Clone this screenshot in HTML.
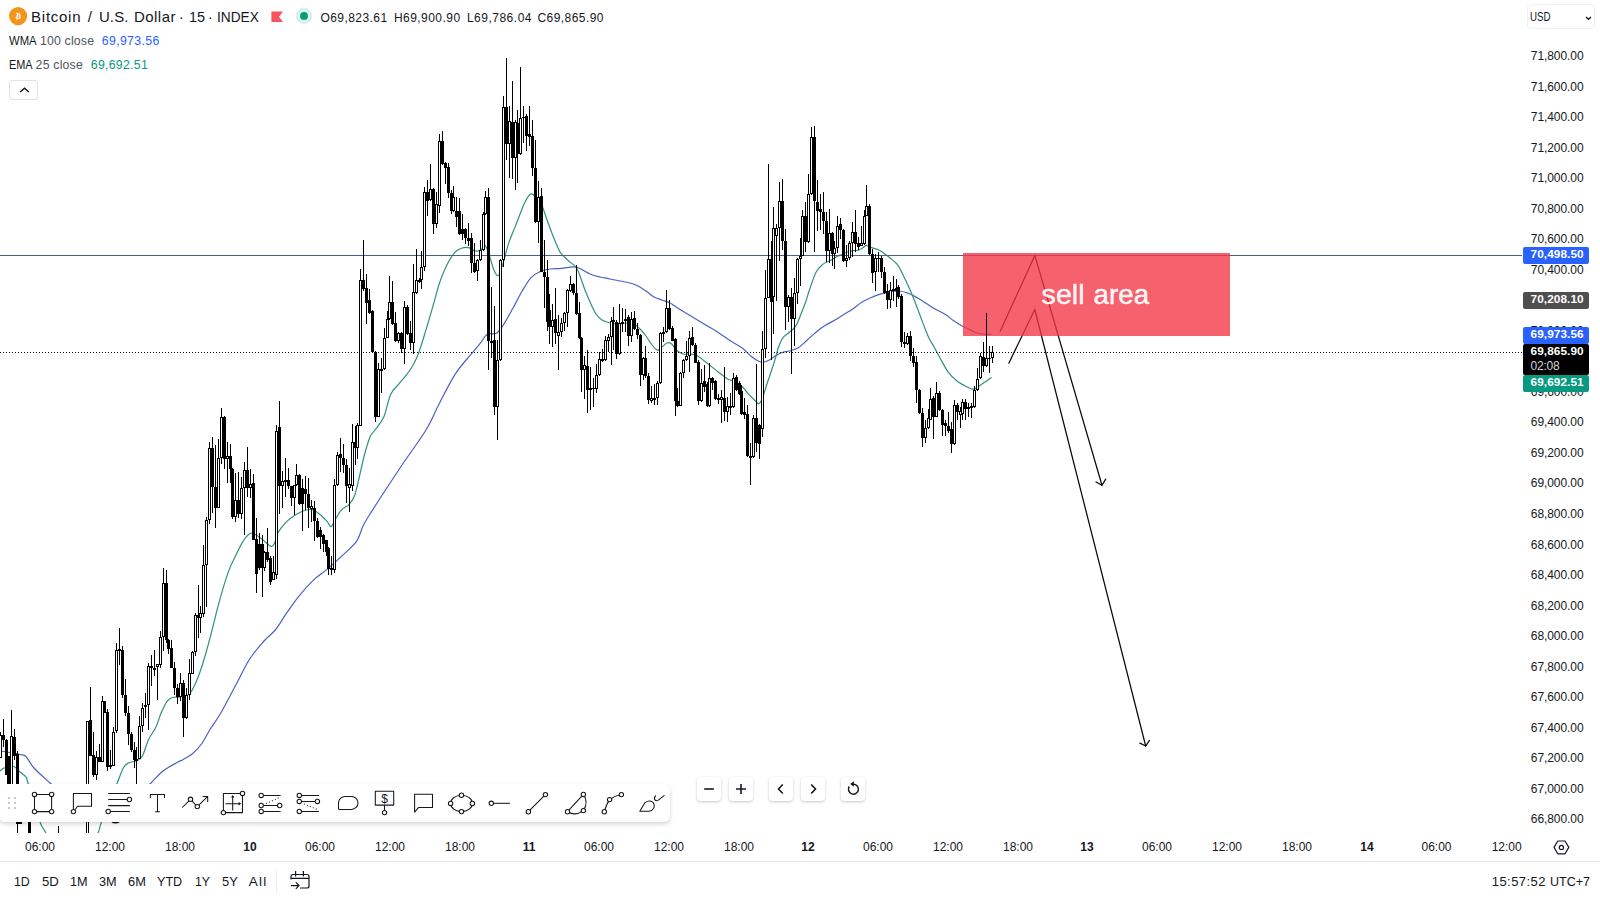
<!DOCTYPE html>
<html><head><meta charset="utf-8"><title>BTCUSD</title>
<style>
html,body{margin:0;padding:0;}
body{width:1600px;height:900px;position:relative;overflow:hidden;background:#fff;font-family:"Liberation Sans",sans-serif;color:#131722;}
.abs{position:absolute;white-space:nowrap;}
.zb{position:absolute;top:777px;width:24px;height:24px;background:#fff;border-radius:4px;box-shadow:0 1px 3px rgba(0,0,0,.22);}
</style></head><body>
<svg class="abs" style="left:0;top:0" width="1522" height="833" viewBox="0 0 1522 833">
<ellipse cx="115.500" cy="819.500" rx="5.500" ry="4" fill="#111"/>
<path d="M0.0 751.0C1.7 751.2 6.7 751.9 10.0 752.5C13.3 753.1 17.3 753.8 20.0 754.5C22.7 755.2 23.7 754.2 26.0 756.5C28.3 758.8 30.0 763.6 34.0 768.0C38.0 772.4 45.3 778.7 50.0 783.0C54.7 787.3 57.8 790.5 62.0 794.0C66.2 797.5 70.3 801.2 75.0 804.0C79.7 806.8 85.8 809.7 90.0 811.0C94.2 812.3 96.7 812.2 100.0 812.0C103.3 811.8 105.8 811.5 110.0 810.0C114.2 808.5 120.0 806.0 125.0 803.0C130.0 800.0 135.8 795.2 140.0 792.0C144.2 788.8 146.2 787.5 150.0 784.0C153.8 780.5 158.4 774.6 163.0 771.0C167.6 767.4 174.1 764.2 177.5 762.3C180.9 760.4 180.7 760.9 183.3 759.4C185.9 757.9 190.2 755.7 193.3 753.0C196.5 750.3 199.4 746.9 202.2 743.0C205.0 739.1 206.9 734.5 210.0 729.5C213.1 724.5 216.6 720.2 220.8 713.0C225.0 705.8 230.5 695.0 235.3 686.0C240.1 677.0 244.9 666.5 249.7 659.0C254.5 651.5 259.7 645.9 264.0 641.0C268.3 636.1 271.8 634.3 275.7 629.5C279.6 624.7 283.3 617.7 287.2 612.2C291.1 606.7 294.5 601.6 298.8 596.3C303.1 591.0 308.4 585.0 313.2 580.4C318.0 575.8 322.8 573.0 327.6 568.9C332.4 564.8 337.2 560.5 342.0 555.9C346.8 551.3 353.0 546.3 356.5 541.4C360.0 536.5 360.6 531.2 362.8 526.6C365.1 522.0 363.8 523.8 370.0 514.0C376.2 504.2 390.7 482.0 400.0 468.0C409.3 454.0 419.4 440.8 426.0 430.0C432.6 419.2 434.6 412.6 439.4 403.3C444.2 394.0 450.4 381.8 455.0 374.4C459.6 367.0 462.8 364.1 467.0 359.0C471.2 353.9 476.7 347.8 480.0 343.7C483.3 339.6 484.3 336.1 487.0 334.4C489.7 332.6 493.6 334.8 496.3 333.2C499.0 331.6 500.6 329.1 503.3 325.0C506.0 320.9 509.5 314.4 512.6 308.8C515.7 303.2 518.9 296.6 522.0 291.3C525.1 286.1 528.2 280.6 531.3 277.3C534.4 274.0 537.5 272.9 540.6 271.5C543.7 270.1 546.5 269.5 550.0 269.0C553.5 268.5 557.7 268.8 561.6 268.4C565.5 268.0 570.1 266.8 573.2 266.8C576.3 266.8 577.2 267.3 580.0 268.5C582.8 269.7 586.7 272.6 590.0 274.0C593.3 275.4 596.7 276.2 600.0 277.0C603.3 277.8 606.7 278.3 610.0 279.0C613.3 279.7 616.7 280.3 620.0 281.0C623.3 281.7 627.0 282.2 630.0 283.0C633.0 283.8 635.3 284.7 638.0 286.0C640.7 287.3 643.3 289.2 646.0 291.0C648.7 292.8 651.3 295.5 654.0 297.0C656.7 298.5 659.3 299.0 662.0 300.0C664.7 301.0 668.0 302.1 670.0 303.0C672.0 303.9 671.8 304.2 674.0 305.6C676.2 307.0 679.8 309.4 683.3 311.5C686.8 313.6 691.1 316.2 695.0 318.5C698.9 320.8 702.7 323.2 706.6 325.5C710.5 327.8 714.4 329.9 718.3 332.4C722.2 334.9 726.1 338.1 730.0 340.6C733.9 343.1 738.0 344.9 741.6 347.6C745.2 350.3 748.9 354.5 751.7 356.7C754.5 358.9 756.4 360.1 758.3 361.0C760.1 361.9 760.9 362.4 762.8 362.2C764.6 362.0 767.2 361.1 769.4 360.0C771.6 358.9 773.8 356.9 776.0 355.6C778.2 354.3 780.6 353.0 782.8 352.2C785.0 351.4 786.8 351.7 789.4 351.0C792.0 350.3 795.3 349.6 798.3 347.8C801.3 346.0 804.2 342.6 807.2 340.0C810.2 337.4 813.0 334.6 816.0 332.2C819.0 329.8 821.8 327.6 825.0 325.6C828.2 323.6 831.9 321.9 835.0 320.0C838.1 318.1 840.9 316.2 843.9 314.4C846.9 312.6 849.8 311.0 852.8 309.0C855.8 307.0 858.7 304.1 861.7 302.2C864.7 300.3 867.7 299.1 870.6 297.8C873.5 296.5 876.5 295.3 879.4 294.4C882.3 293.5 885.0 292.8 888.3 292.2C891.6 291.6 896.1 290.8 899.4 291.0C902.7 291.2 905.3 292.2 908.3 293.3C911.3 294.4 914.2 296.1 917.2 297.8C920.2 299.5 923.0 301.4 926.0 303.3C929.0 305.2 931.8 307.1 935.0 309.0C938.2 310.9 942.4 312.7 945.4 314.6C948.4 316.5 950.5 318.5 953.0 320.2C955.5 321.9 958.0 323.6 960.5 325.0C963.0 326.4 965.5 327.6 968.0 328.8C970.5 330.1 973.1 331.6 975.6 332.5C978.1 333.4 980.5 333.9 983.2 334.2C985.9 334.5 990.2 334.4 991.6 334.5" fill="none" stroke="#4a63bd" stroke-width="1.200" stroke-linejoin="round"/>
<path d="M0.0 771.0C0.7 770.5 2.3 768.7 4.0 768.0C5.7 767.3 8.3 767.2 10.0 767.0C11.7 766.8 12.3 765.7 14.0 766.5C15.7 767.3 18.0 770.2 20.0 772.0C22.0 773.8 24.7 775.2 26.0 777.0C27.3 778.8 25.7 775.5 28.0 783.0C30.3 790.5 37.0 813.7 40.0 822.0C43.0 830.3 42.7 826.7 46.0 833.0C49.3 839.3 53.5 855.5 60.0 860.0C66.5 864.5 78.7 864.5 85.0 860.0C91.3 855.5 95.2 839.3 98.0 833.0C100.8 826.7 98.3 830.2 101.5 822.0C104.7 813.8 113.3 792.6 117.0 783.5C120.7 774.4 121.5 771.0 123.5 767.5C125.5 764.0 126.8 763.8 129.0 762.7C131.2 761.6 134.5 761.9 136.7 760.8C138.9 759.7 140.4 759.6 142.4 756.0C144.4 752.4 146.5 743.9 148.7 739.2C150.9 734.5 153.5 732.2 155.6 727.8C157.7 723.4 159.4 717.0 161.3 712.6C163.2 708.2 165.1 703.8 167.0 701.3C168.9 698.8 170.4 698.2 172.6 697.5C174.8 696.8 177.7 697.5 180.4 697.0C183.1 696.5 186.3 697.0 189.0 694.4C191.7 691.8 193.9 687.0 196.3 681.5C198.7 676.0 201.1 668.9 203.5 661.2C205.9 653.5 208.3 644.4 210.7 635.3C213.1 626.2 215.8 614.6 218.0 606.4C220.2 598.2 221.8 592.5 223.7 586.2C225.6 580.0 227.5 574.0 229.5 568.9C231.5 563.8 233.2 560.5 235.5 555.9C237.8 551.3 240.5 545.1 243.0 541.3C245.5 537.5 248.4 534.3 250.6 533.3C252.8 532.2 254.1 533.8 256.3 535.0C258.5 536.2 261.3 538.9 263.8 540.8C266.3 542.7 269.5 546.3 271.4 546.5C273.3 546.7 273.8 544.4 275.0 542.0C276.2 539.6 276.4 535.4 278.4 531.9C280.4 528.4 284.1 524.1 286.9 521.3C289.7 518.5 292.5 516.8 295.3 515.0C298.1 513.2 301.0 511.7 303.8 510.8C306.6 509.9 309.4 509.0 312.2 509.7C315.0 510.4 318.1 513.1 320.6 515.0C323.1 516.9 325.2 519.4 327.0 521.3C328.8 523.2 329.8 527.0 331.2 526.6C332.6 526.2 333.6 522.0 335.4 519.2C337.1 516.4 339.4 512.2 341.7 509.7C344.0 507.2 347.0 506.7 349.1 504.4C351.2 502.1 352.8 500.0 354.4 496.0C356.0 492.0 357.0 486.7 358.6 480.2C360.2 473.7 362.0 464.2 363.9 457.0C365.8 449.8 368.1 441.5 370.0 437.0C371.9 432.5 372.7 433.4 375.0 430.0C377.3 426.6 381.3 422.6 383.9 416.7C386.5 410.8 388.0 400.0 390.6 394.4C393.2 388.8 396.3 387.2 399.4 383.3C402.5 379.4 406.4 375.4 409.4 371.0C412.4 366.6 414.8 362.4 417.2 356.7C419.6 351.0 421.3 345.0 423.9 336.7C426.5 328.4 430.2 315.6 432.8 306.7C435.4 297.8 437.2 290.0 439.4 283.3C441.6 276.6 443.4 271.9 446.0 266.7C448.6 261.5 452.2 255.3 455.0 252.2C457.8 249.0 460.4 248.5 462.8 247.8C465.2 247.1 467.4 247.3 469.4 247.8C471.4 248.3 473.1 250.6 475.0 251.0C476.9 251.4 478.9 250.9 480.6 250.0C482.3 249.1 483.5 244.7 485.0 245.6C486.5 246.5 487.9 251.5 489.4 255.6C490.9 259.7 492.4 266.7 493.9 270.0C495.4 273.3 496.8 276.5 498.3 275.6C499.8 274.7 501.1 269.6 502.8 264.4C504.5 259.2 506.2 250.9 508.3 244.4C510.4 237.9 512.9 232.4 515.6 225.6C518.3 218.8 522.0 208.5 524.4 203.3C526.8 198.1 528.3 195.7 530.0 194.4C531.7 193.1 532.6 194.1 534.4 195.6C536.2 197.1 539.0 199.4 541.0 203.3C543.0 207.2 544.7 213.4 546.7 219.0C548.8 224.6 551.2 231.5 553.3 236.7C555.3 241.9 557.6 247.1 559.0 250.0C560.4 252.9 560.0 252.2 561.6 254.0C563.2 255.8 566.2 258.8 568.6 261.0C571.0 263.2 574.1 264.5 576.0 267.0C577.9 269.5 578.5 272.2 580.0 276.0C581.5 279.8 583.3 285.7 585.0 290.0C586.7 294.3 588.2 298.0 590.0 302.0C591.8 306.0 594.0 311.0 596.0 314.0C598.0 317.0 599.7 318.5 602.0 320.0C604.3 321.5 607.3 322.3 610.0 323.0C612.7 323.7 615.3 324.0 618.0 324.0C620.7 324.0 623.3 323.0 626.0 323.0C628.7 323.0 631.7 323.0 634.0 324.0C636.3 325.0 638.0 327.0 640.0 329.0C642.0 331.0 644.0 333.3 646.0 336.0C648.0 338.7 650.2 342.7 652.0 345.0C653.8 347.3 655.7 349.3 657.0 350.0C658.3 350.7 658.3 350.2 660.0 349.0C661.7 347.8 665.0 343.8 667.0 343.0C669.0 342.2 670.2 342.8 671.7 344.0C673.2 345.2 674.4 348.3 676.3 350.0C678.2 351.7 681.0 353.3 683.3 354.0C685.6 354.7 688.0 353.7 690.3 354.0C692.6 354.3 694.6 354.3 697.3 355.8C700.0 357.3 703.1 360.1 706.6 362.8C710.1 365.5 714.8 369.3 718.3 372.0C721.8 374.7 724.9 377.4 727.6 379.0C730.3 380.6 732.3 380.2 734.6 381.4C736.9 382.6 739.3 383.9 741.6 386.0C743.9 388.1 746.3 391.7 748.6 394.2C750.9 396.7 754.0 399.6 755.6 401.2C757.2 402.8 757.3 404.0 758.3 403.8C759.3 403.6 760.2 403.4 761.7 400.0C763.2 396.6 765.2 389.4 767.2 383.3C769.2 377.2 772.0 369.2 773.9 363.3C775.8 357.4 776.8 352.1 778.3 347.8C779.8 343.6 780.9 340.4 782.8 337.8C784.6 335.2 787.2 334.2 789.4 332.2C791.6 330.2 794.0 328.9 796.0 325.6C798.0 322.3 800.0 316.3 801.7 312.2C803.4 308.1 804.7 304.7 806.0 301.0C807.3 297.3 807.7 294.8 809.4 290.0C811.1 285.2 813.8 276.5 816.0 272.2C818.2 267.9 820.6 266.3 822.8 264.4C825.0 262.5 827.2 262.2 829.4 261.0C831.6 259.8 834.0 258.1 836.0 257.0C838.0 255.9 839.7 255.4 841.7 254.5C843.8 253.6 846.1 252.5 848.3 251.8C850.5 251.1 853.2 250.8 855.0 250.5C856.8 250.2 857.6 250.5 859.0 250.0C860.4 249.5 862.1 248.3 863.3 247.5C864.5 246.7 865.1 245.3 866.4 245.3C867.7 245.3 869.1 246.7 871.3 247.5C873.4 248.3 876.9 249.0 879.3 250.2C881.7 251.4 884.0 253.4 885.5 254.5C887.0 255.6 886.3 254.8 888.3 256.5C890.2 258.1 894.6 261.0 897.2 264.4C899.8 267.8 901.7 272.3 903.9 276.7C906.1 281.1 908.4 285.8 910.6 291.0C912.8 296.2 915.0 302.0 917.2 307.8C919.4 313.6 921.9 320.4 923.9 325.6C925.9 330.8 927.7 335.5 929.4 339.0C931.1 342.5 932.0 343.1 934.0 346.7C936.0 350.3 939.1 356.5 941.6 360.9C944.1 365.3 946.5 369.9 949.0 373.2C951.5 376.5 954.2 378.6 956.7 380.7C959.2 382.8 961.8 384.1 964.3 385.5C966.8 386.9 969.9 388.5 971.8 389.0C973.7 389.5 974.0 389.1 975.6 388.3C977.2 387.6 979.4 385.8 981.3 384.5C983.2 383.2 985.3 381.9 987.0 380.7C988.7 379.5 990.8 378.0 991.6 377.5" fill="none" stroke="#2e917d" stroke-width="1.200" stroke-linejoin="round"/>
<rect x="0" y="255" width="1522" height="1" fill="#4c6088" shape-rendering="crispEdges"/>
<g fill="none" stroke="#0a0a0a" stroke-width="1.250" stroke-linecap="round" stroke-linejoin="round">
<polyline points="1000.2,331.3 1034.8,255.4 1102,485.3"/>
<polyline points="1096,482 1102,485.3 1105.7,479.1"/>
<polyline points="1008.8,363.2 1034.8,309.5 1145.7,746"/>
<polyline points="1139.9,743.1 1145.7,746 1149.4,740.4"/>
</g>
<rect x="963" y="253" width="267" height="83" fill="rgba(242,54,69,0.78)"/>
<g font-family="Liberation Sans, sans-serif" font-size="28" fill="#fff" fill-opacity=".94" stroke="#fff" stroke-opacity=".9" stroke-width=".5"><text x="1041.600" y="303.600" textLength="43" lengthAdjust="spacingAndGlyphs">sell</text><text x="1093.600" y="303.600" textLength="55.500" lengthAdjust="spacingAndGlyphs">area</text></g>
<line x1="0" y1="352.5" x2="1522" y2="352.5" stroke="#000" stroke-width="1" stroke-dasharray="1,2" shape-rendering="crispEdges"/>
<g shape-rendering="crispEdges">
<rect x="0" y="732" width="1" height="26"/>
<rect x="-1" y="735" width="3" height="23"/>
<rect x="0" y="736" width="1" height="21" fill="#fff"/>
<rect x="3" y="719" width="1" height="28"/>
<rect x="2" y="735" width="3" height="5"/>
<rect x="6" y="739" width="1" height="36"/>
<rect x="5" y="740" width="3" height="35"/>
<rect x="8" y="756" width="1" height="54"/>
<rect x="7" y="756" width="3" height="49"/>
<rect x="11" y="710" width="1" height="102"/>
<rect x="10" y="736" width="3" height="69"/>
<rect x="11" y="737" width="1" height="67" fill="#fff"/>
<rect x="14" y="729" width="1" height="31"/>
<rect x="13" y="737" width="3" height="19"/>
<rect x="17" y="751" width="1" height="94"/>
<rect x="16" y="754" width="3" height="70"/>
<rect x="20" y="795" width="1" height="29"/>
<rect x="19" y="800" width="3" height="24"/>
<rect x="29" y="812" width="1" height="48"/>
<rect x="28" y="815" width="3" height="35"/>
<rect x="58" y="826" width="1" height="34"/>
<rect x="57" y="840" width="3" height="10"/>
<rect x="87" y="721" width="1" height="139"/>
<rect x="86" y="721" width="3" height="129"/>
<rect x="87" y="722" width="1" height="127" fill="#fff"/>
<rect x="90" y="687" width="1" height="69"/>
<rect x="89" y="720" width="3" height="36"/>
<rect x="93" y="732" width="1" height="45"/>
<rect x="92" y="755" width="3" height="20"/>
<rect x="96" y="751" width="1" height="29"/>
<rect x="95" y="757" width="3" height="18"/>
<rect x="96" y="758" width="1" height="16" fill="#fff"/>
<rect x="99" y="744" width="1" height="18"/>
<rect x="98" y="757" width="3" height="5"/>
<rect x="102" y="696" width="1" height="66"/>
<rect x="101" y="701" width="3" height="61"/>
<rect x="102" y="702" width="1" height="59" fill="#fff"/>
<rect x="104" y="701" width="1" height="12"/>
<rect x="103" y="701" width="3" height="12"/>
<rect x="107" y="709" width="1" height="62"/>
<rect x="106" y="712" width="3" height="55"/>
<rect x="110" y="750" width="1" height="19"/>
<rect x="109" y="765" width="3" height="2"/>
<rect x="113" y="727" width="1" height="39"/>
<rect x="112" y="732" width="3" height="34"/>
<rect x="113" y="733" width="1" height="32" fill="#fff"/>
<rect x="116" y="643" width="1" height="90"/>
<rect x="115" y="650" width="3" height="81"/>
<rect x="116" y="651" width="1" height="79" fill="#fff"/>
<rect x="119" y="628" width="1" height="37"/>
<rect x="118" y="649" width="3" height="2"/>
<rect x="122" y="646" width="1" height="52"/>
<rect x="121" y="650" width="3" height="45"/>
<rect x="125" y="679" width="1" height="37"/>
<rect x="124" y="695" width="3" height="18"/>
<rect x="128" y="706" width="1" height="39"/>
<rect x="127" y="713" width="3" height="21"/>
<rect x="131" y="732" width="1" height="20"/>
<rect x="130" y="734" width="3" height="16"/>
<rect x="134" y="742" width="1" height="26"/>
<rect x="133" y="750" width="3" height="10"/>
<rect x="136" y="747" width="1" height="37"/>
<rect x="135" y="759" width="3" height="2"/>
<rect x="139" y="716" width="1" height="43"/>
<rect x="138" y="726" width="3" height="33"/>
<rect x="139" y="727" width="1" height="31" fill="#fff"/>
<rect x="142" y="703" width="1" height="29"/>
<rect x="141" y="708" width="3" height="18"/>
<rect x="142" y="709" width="1" height="16" fill="#fff"/>
<rect x="145" y="693" width="1" height="25"/>
<rect x="144" y="705" width="3" height="2"/>
<rect x="148" y="663" width="1" height="67"/>
<rect x="147" y="666" width="3" height="39"/>
<rect x="148" y="667" width="1" height="37" fill="#fff"/>
<rect x="151" y="655" width="1" height="31"/>
<rect x="150" y="666" width="3" height="2"/>
<rect x="154" y="650" width="1" height="26"/>
<rect x="153" y="668" width="3" height="2"/>
<rect x="157" y="664" width="1" height="36"/>
<rect x="156" y="664" width="3" height="3"/>
<rect x="157" y="665" width="1" height="1" fill="#fff"/>
<rect x="160" y="631" width="1" height="37"/>
<rect x="159" y="637" width="3" height="28"/>
<rect x="160" y="638" width="1" height="26" fill="#fff"/>
<rect x="163" y="568" width="1" height="83"/>
<rect x="162" y="583" width="3" height="54"/>
<rect x="163" y="584" width="1" height="52" fill="#fff"/>
<rect x="166" y="570" width="1" height="73"/>
<rect x="165" y="583" width="3" height="57"/>
<rect x="168" y="639" width="1" height="15"/>
<rect x="167" y="640" width="3" height="9"/>
<rect x="171" y="640" width="1" height="28"/>
<rect x="170" y="648" width="3" height="20"/>
<rect x="174" y="662" width="1" height="33"/>
<rect x="173" y="668" width="3" height="20"/>
<rect x="177" y="684" width="1" height="20"/>
<rect x="176" y="688" width="3" height="9"/>
<rect x="180" y="673" width="1" height="28"/>
<rect x="179" y="683" width="3" height="14"/>
<rect x="180" y="684" width="1" height="12" fill="#fff"/>
<rect x="183" y="680" width="1" height="57"/>
<rect x="182" y="683" width="3" height="35"/>
<rect x="186" y="688" width="1" height="31"/>
<rect x="185" y="695" width="3" height="23"/>
<rect x="186" y="696" width="1" height="21" fill="#fff"/>
<rect x="189" y="659" width="1" height="41"/>
<rect x="188" y="673" width="3" height="22"/>
<rect x="189" y="674" width="1" height="20" fill="#fff"/>
<rect x="192" y="651" width="1" height="23"/>
<rect x="191" y="652" width="3" height="22"/>
<rect x="192" y="653" width="1" height="20" fill="#fff"/>
<rect x="195" y="613" width="1" height="43"/>
<rect x="194" y="615" width="3" height="37"/>
<rect x="195" y="616" width="1" height="35" fill="#fff"/>
<rect x="198" y="585" width="1" height="53"/>
<rect x="197" y="615" width="3" height="3"/>
<rect x="200" y="606" width="1" height="27"/>
<rect x="199" y="613" width="3" height="5"/>
<rect x="200" y="614" width="1" height="3" fill="#fff"/>
<rect x="203" y="545" width="1" height="72"/>
<rect x="202" y="565" width="3" height="49"/>
<rect x="203" y="566" width="1" height="47" fill="#fff"/>
<rect x="206" y="517" width="1" height="90"/>
<rect x="205" y="520" width="3" height="45"/>
<rect x="206" y="521" width="1" height="43" fill="#fff"/>
<rect x="209" y="442" width="1" height="82"/>
<rect x="208" y="448" width="3" height="72"/>
<rect x="209" y="449" width="1" height="70" fill="#fff"/>
<rect x="212" y="437" width="1" height="76"/>
<rect x="211" y="448" width="3" height="39"/>
<rect x="215" y="445" width="1" height="83"/>
<rect x="214" y="487" width="3" height="21"/>
<rect x="218" y="439" width="1" height="69"/>
<rect x="217" y="458" width="3" height="50"/>
<rect x="218" y="459" width="1" height="48" fill="#fff"/>
<rect x="221" y="408" width="1" height="56"/>
<rect x="220" y="417" width="3" height="41"/>
<rect x="221" y="418" width="1" height="39" fill="#fff"/>
<rect x="224" y="416" width="1" height="53"/>
<rect x="223" y="417" width="3" height="42"/>
<rect x="227" y="442" width="1" height="41"/>
<rect x="226" y="456" width="3" height="3"/>
<rect x="227" y="457" width="1" height="1" fill="#fff"/>
<rect x="230" y="444" width="1" height="39"/>
<rect x="229" y="456" width="3" height="13"/>
<rect x="232" y="468" width="1" height="51"/>
<rect x="231" y="469" width="3" height="48"/>
<rect x="235" y="473" width="1" height="49"/>
<rect x="234" y="500" width="3" height="17"/>
<rect x="235" y="501" width="1" height="15" fill="#fff"/>
<rect x="238" y="472" width="1" height="46"/>
<rect x="237" y="500" width="3" height="14"/>
<rect x="241" y="477" width="1" height="42"/>
<rect x="240" y="488" width="3" height="26"/>
<rect x="241" y="489" width="1" height="24" fill="#fff"/>
<rect x="244" y="462" width="1" height="73"/>
<rect x="243" y="470" width="3" height="18"/>
<rect x="244" y="471" width="1" height="16" fill="#fff"/>
<rect x="247" y="447" width="1" height="50"/>
<rect x="246" y="470" width="3" height="18"/>
<rect x="250" y="469" width="1" height="29"/>
<rect x="249" y="484" width="3" height="4"/>
<rect x="250" y="485" width="1" height="2" fill="#fff"/>
<rect x="253" y="474" width="1" height="66"/>
<rect x="252" y="483" width="3" height="57"/>
<rect x="256" y="518" width="1" height="75"/>
<rect x="255" y="539" width="3" height="35"/>
<rect x="259" y="533" width="1" height="37"/>
<rect x="258" y="544" width="3" height="24"/>
<rect x="262" y="535" width="1" height="62"/>
<rect x="261" y="544" width="3" height="24"/>
<rect x="264" y="551" width="1" height="20"/>
<rect x="263" y="552" width="3" height="16"/>
<rect x="264" y="553" width="1" height="14" fill="#fff"/>
<rect x="267" y="528" width="1" height="34"/>
<rect x="266" y="552" width="3" height="8"/>
<rect x="270" y="556" width="1" height="29"/>
<rect x="269" y="558" width="3" height="24"/>
<rect x="273" y="556" width="1" height="24"/>
<rect x="272" y="572" width="3" height="8"/>
<rect x="273" y="573" width="1" height="6" fill="#fff"/>
<rect x="276" y="425" width="1" height="154"/>
<rect x="275" y="431" width="3" height="144"/>
<rect x="276" y="432" width="1" height="142" fill="#fff"/>
<rect x="279" y="401" width="1" height="113"/>
<rect x="278" y="427" width="3" height="59"/>
<rect x="282" y="471" width="1" height="37"/>
<rect x="281" y="481" width="3" height="5"/>
<rect x="282" y="482" width="1" height="3" fill="#fff"/>
<rect x="285" y="458" width="1" height="39"/>
<rect x="284" y="480" width="3" height="2"/>
<rect x="288" y="468" width="1" height="21"/>
<rect x="287" y="480" width="3" height="6"/>
<rect x="291" y="486" width="1" height="20"/>
<rect x="290" y="486" width="3" height="12"/>
<rect x="294" y="485" width="1" height="30"/>
<rect x="293" y="485" width="3" height="13"/>
<rect x="294" y="486" width="1" height="11" fill="#fff"/>
<rect x="296" y="464" width="1" height="22"/>
<rect x="295" y="475" width="3" height="10"/>
<rect x="296" y="476" width="1" height="8" fill="#fff"/>
<rect x="299" y="474" width="1" height="31"/>
<rect x="298" y="475" width="3" height="29"/>
<rect x="302" y="479" width="1" height="52"/>
<rect x="301" y="488" width="3" height="16"/>
<rect x="305" y="476" width="1" height="34"/>
<rect x="304" y="489" width="3" height="5"/>
<rect x="308" y="478" width="1" height="50"/>
<rect x="307" y="494" width="3" height="14"/>
<rect x="311" y="500" width="1" height="22"/>
<rect x="310" y="506" width="3" height="3"/>
<rect x="311" y="507" width="1" height="1" fill="#fff"/>
<rect x="314" y="501" width="1" height="40"/>
<rect x="313" y="508" width="3" height="13"/>
<rect x="317" y="518" width="1" height="20"/>
<rect x="316" y="521" width="3" height="16"/>
<rect x="320" y="527" width="1" height="22"/>
<rect x="319" y="530" width="3" height="7"/>
<rect x="323" y="534" width="1" height="18"/>
<rect x="322" y="535" width="3" height="9"/>
<rect x="326" y="540" width="1" height="16"/>
<rect x="325" y="540" width="3" height="12"/>
<rect x="328" y="547" width="1" height="28"/>
<rect x="327" y="548" width="3" height="21"/>
<rect x="331" y="556" width="1" height="19"/>
<rect x="330" y="568" width="3" height="2"/>
<rect x="334" y="479" width="1" height="94"/>
<rect x="333" y="485" width="3" height="85"/>
<rect x="334" y="486" width="1" height="83" fill="#fff"/>
<rect x="337" y="452" width="1" height="34"/>
<rect x="336" y="455" width="3" height="30"/>
<rect x="337" y="456" width="1" height="28" fill="#fff"/>
<rect x="340" y="438" width="1" height="34"/>
<rect x="339" y="454" width="3" height="4"/>
<rect x="343" y="444" width="1" height="29"/>
<rect x="342" y="458" width="3" height="7"/>
<rect x="346" y="459" width="1" height="44"/>
<rect x="345" y="465" width="3" height="21"/>
<rect x="349" y="468" width="1" height="44"/>
<rect x="348" y="484" width="3" height="4"/>
<rect x="349" y="485" width="1" height="2" fill="#fff"/>
<rect x="352" y="424" width="1" height="67"/>
<rect x="351" y="442" width="3" height="44"/>
<rect x="352" y="443" width="1" height="42" fill="#fff"/>
<rect x="355" y="426" width="1" height="39"/>
<rect x="354" y="442" width="3" height="6"/>
<rect x="357" y="423" width="1" height="36"/>
<rect x="356" y="425" width="3" height="23"/>
<rect x="357" y="426" width="1" height="21" fill="#fff"/>
<rect x="360" y="269" width="1" height="157"/>
<rect x="359" y="280" width="3" height="146"/>
<rect x="360" y="281" width="1" height="144" fill="#fff"/>
<rect x="363" y="240" width="1" height="51"/>
<rect x="362" y="280" width="3" height="9"/>
<rect x="366" y="274" width="1" height="50"/>
<rect x="365" y="288" width="3" height="15"/>
<rect x="369" y="289" width="1" height="25"/>
<rect x="368" y="300" width="3" height="13"/>
<rect x="372" y="310" width="1" height="43"/>
<rect x="371" y="311" width="3" height="41"/>
<rect x="375" y="351" width="1" height="71"/>
<rect x="374" y="352" width="3" height="65"/>
<rect x="378" y="363" width="1" height="54"/>
<rect x="377" y="369" width="3" height="48"/>
<rect x="378" y="370" width="1" height="46" fill="#fff"/>
<rect x="381" y="358" width="1" height="35"/>
<rect x="380" y="369" width="3" height="2"/>
<rect x="384" y="328" width="1" height="42"/>
<rect x="383" y="338" width="3" height="31"/>
<rect x="384" y="339" width="1" height="29" fill="#fff"/>
<rect x="387" y="311" width="1" height="27"/>
<rect x="386" y="319" width="3" height="19"/>
<rect x="387" y="320" width="1" height="17" fill="#fff"/>
<rect x="389" y="276" width="1" height="44"/>
<rect x="388" y="302" width="3" height="17"/>
<rect x="389" y="303" width="1" height="15" fill="#fff"/>
<rect x="392" y="281" width="1" height="44"/>
<rect x="391" y="302" width="3" height="22"/>
<rect x="395" y="312" width="1" height="30"/>
<rect x="394" y="323" width="3" height="18"/>
<rect x="398" y="332" width="1" height="11"/>
<rect x="397" y="333" width="3" height="8"/>
<rect x="398" y="334" width="1" height="6" fill="#fff"/>
<rect x="401" y="332" width="1" height="21"/>
<rect x="400" y="333" width="3" height="16"/>
<rect x="404" y="301" width="1" height="63"/>
<rect x="403" y="307" width="3" height="42"/>
<rect x="404" y="308" width="1" height="40" fill="#fff"/>
<rect x="407" y="305" width="1" height="30"/>
<rect x="406" y="307" width="3" height="27"/>
<rect x="410" y="321" width="1" height="29"/>
<rect x="409" y="333" width="3" height="10"/>
<rect x="413" y="264" width="1" height="90"/>
<rect x="412" y="292" width="3" height="51"/>
<rect x="413" y="293" width="1" height="49" fill="#fff"/>
<rect x="416" y="249" width="1" height="45"/>
<rect x="415" y="280" width="3" height="13"/>
<rect x="416" y="281" width="1" height="11" fill="#fff"/>
<rect x="419" y="278" width="1" height="5"/>
<rect x="418" y="280" width="3" height="2"/>
<rect x="421" y="251" width="1" height="38"/>
<rect x="420" y="267" width="3" height="13"/>
<rect x="421" y="268" width="1" height="11" fill="#fff"/>
<rect x="424" y="187" width="1" height="84"/>
<rect x="423" y="192" width="3" height="75"/>
<rect x="424" y="193" width="1" height="73" fill="#fff"/>
<rect x="427" y="180" width="1" height="36"/>
<rect x="426" y="192" width="3" height="9"/>
<rect x="430" y="164" width="1" height="37"/>
<rect x="429" y="189" width="3" height="11"/>
<rect x="430" y="190" width="1" height="9" fill="#fff"/>
<rect x="433" y="188" width="1" height="46"/>
<rect x="432" y="189" width="3" height="35"/>
<rect x="436" y="192" width="1" height="36"/>
<rect x="435" y="204" width="3" height="20"/>
<rect x="436" y="205" width="1" height="18" fill="#fff"/>
<rect x="439" y="134" width="1" height="79"/>
<rect x="438" y="141" width="3" height="65"/>
<rect x="439" y="142" width="1" height="63" fill="#fff"/>
<rect x="442" y="131" width="1" height="34"/>
<rect x="441" y="141" width="3" height="23"/>
<rect x="445" y="162" width="1" height="22"/>
<rect x="444" y="163" width="3" height="5"/>
<rect x="448" y="163" width="1" height="35"/>
<rect x="447" y="167" width="3" height="26"/>
<rect x="451" y="190" width="1" height="24"/>
<rect x="450" y="193" width="3" height="18"/>
<rect x="453" y="186" width="1" height="26"/>
<rect x="452" y="197" width="3" height="14"/>
<rect x="453" y="198" width="1" height="12" fill="#fff"/>
<rect x="456" y="197" width="1" height="30"/>
<rect x="455" y="211" width="3" height="6"/>
<rect x="459" y="198" width="1" height="37"/>
<rect x="458" y="211" width="3" height="23"/>
<rect x="462" y="214" width="1" height="26"/>
<rect x="461" y="229" width="3" height="5"/>
<rect x="465" y="228" width="1" height="16"/>
<rect x="464" y="229" width="3" height="9"/>
<rect x="468" y="223" width="1" height="23"/>
<rect x="467" y="238" width="3" height="3"/>
<rect x="471" y="233" width="1" height="40"/>
<rect x="470" y="238" width="3" height="25"/>
<rect x="474" y="243" width="1" height="30"/>
<rect x="473" y="263" width="3" height="9"/>
<rect x="477" y="259" width="1" height="22"/>
<rect x="476" y="260" width="3" height="11"/>
<rect x="477" y="261" width="1" height="9" fill="#fff"/>
<rect x="480" y="240" width="1" height="21"/>
<rect x="479" y="250" width="3" height="10"/>
<rect x="480" y="251" width="1" height="8" fill="#fff"/>
<rect x="483" y="212" width="1" height="39"/>
<rect x="482" y="214" width="3" height="36"/>
<rect x="483" y="215" width="1" height="34" fill="#fff"/>
<rect x="485" y="191" width="1" height="24"/>
<rect x="484" y="197" width="3" height="17"/>
<rect x="485" y="198" width="1" height="15" fill="#fff"/>
<rect x="488" y="188" width="1" height="182"/>
<rect x="487" y="197" width="3" height="144"/>
<rect x="491" y="287" width="1" height="71"/>
<rect x="490" y="341" width="3" height="2"/>
<rect x="494" y="306" width="1" height="109"/>
<rect x="493" y="340" width="3" height="67"/>
<rect x="497" y="340" width="1" height="100"/>
<rect x="496" y="360" width="3" height="47"/>
<rect x="497" y="361" width="1" height="45" fill="#fff"/>
<rect x="500" y="259" width="1" height="102"/>
<rect x="499" y="260" width="3" height="100"/>
<rect x="500" y="261" width="1" height="98" fill="#fff"/>
<rect x="503" y="96" width="1" height="171"/>
<rect x="502" y="107" width="3" height="153"/>
<rect x="503" y="108" width="1" height="151" fill="#fff"/>
<rect x="506" y="58" width="1" height="102"/>
<rect x="505" y="107" width="3" height="37"/>
<rect x="509" y="106" width="1" height="72"/>
<rect x="508" y="121" width="3" height="23"/>
<rect x="509" y="122" width="1" height="21" fill="#fff"/>
<rect x="512" y="81" width="1" height="98"/>
<rect x="511" y="122" width="3" height="36"/>
<rect x="515" y="120" width="1" height="70"/>
<rect x="514" y="122" width="3" height="36"/>
<rect x="515" y="123" width="1" height="34" fill="#fff"/>
<rect x="517" y="110" width="1" height="73"/>
<rect x="516" y="123" width="3" height="31"/>
<rect x="520" y="67" width="1" height="88"/>
<rect x="519" y="118" width="3" height="36"/>
<rect x="520" y="119" width="1" height="34" fill="#fff"/>
<rect x="523" y="106" width="1" height="37"/>
<rect x="522" y="117" width="3" height="1"/>
<rect x="526" y="114" width="1" height="37"/>
<rect x="525" y="116" width="3" height="20"/>
<rect x="529" y="106" width="1" height="40"/>
<rect x="528" y="134" width="3" height="3"/>
<rect x="532" y="120" width="1" height="56"/>
<rect x="531" y="136" width="3" height="32"/>
<rect x="535" y="140" width="1" height="83"/>
<rect x="534" y="168" width="3" height="54"/>
<rect x="538" y="181" width="1" height="62"/>
<rect x="537" y="197" width="3" height="25"/>
<rect x="538" y="198" width="1" height="23" fill="#fff"/>
<rect x="541" y="188" width="1" height="84"/>
<rect x="540" y="196" width="3" height="76"/>
<rect x="544" y="240" width="1" height="68"/>
<rect x="543" y="272" width="3" height="5"/>
<rect x="547" y="260" width="1" height="71"/>
<rect x="546" y="277" width="3" height="45"/>
<rect x="549" y="294" width="1" height="50"/>
<rect x="548" y="310" width="3" height="17"/>
<rect x="552" y="304" width="1" height="43"/>
<rect x="551" y="320" width="3" height="7"/>
<rect x="552" y="321" width="1" height="5" fill="#fff"/>
<rect x="555" y="288" width="1" height="56"/>
<rect x="554" y="319" width="3" height="14"/>
<rect x="558" y="315" width="1" height="55"/>
<rect x="557" y="332" width="3" height="4"/>
<rect x="558" y="333" width="1" height="2" fill="#fff"/>
<rect x="561" y="318" width="1" height="19"/>
<rect x="560" y="323" width="3" height="9"/>
<rect x="561" y="324" width="1" height="7" fill="#fff"/>
<rect x="564" y="312" width="1" height="19"/>
<rect x="563" y="313" width="3" height="10"/>
<rect x="564" y="314" width="1" height="8" fill="#fff"/>
<rect x="567" y="289" width="1" height="38"/>
<rect x="566" y="290" width="3" height="23"/>
<rect x="567" y="291" width="1" height="21" fill="#fff"/>
<rect x="570" y="276" width="1" height="16"/>
<rect x="569" y="284" width="3" height="7"/>
<rect x="570" y="285" width="1" height="5" fill="#fff"/>
<rect x="573" y="283" width="1" height="12"/>
<rect x="572" y="284" width="3" height="9"/>
<rect x="576" y="265" width="1" height="50"/>
<rect x="575" y="293" width="3" height="21"/>
<rect x="579" y="302" width="1" height="37"/>
<rect x="578" y="313" width="3" height="25"/>
<rect x="581" y="337" width="1" height="55"/>
<rect x="580" y="338" width="3" height="32"/>
<rect x="584" y="356" width="1" height="43"/>
<rect x="583" y="365" width="3" height="5"/>
<rect x="584" y="366" width="1" height="3" fill="#fff"/>
<rect x="587" y="350" width="1" height="63"/>
<rect x="586" y="366" width="3" height="24"/>
<rect x="590" y="367" width="1" height="43"/>
<rect x="589" y="388" width="3" height="2"/>
<rect x="593" y="378" width="1" height="29"/>
<rect x="592" y="388" width="3" height="1"/>
<rect x="596" y="364" width="1" height="29"/>
<rect x="595" y="375" width="3" height="14"/>
<rect x="596" y="376" width="1" height="12" fill="#fff"/>
<rect x="599" y="352" width="1" height="24"/>
<rect x="598" y="359" width="3" height="16"/>
<rect x="599" y="360" width="1" height="14" fill="#fff"/>
<rect x="602" y="349" width="1" height="13"/>
<rect x="601" y="359" width="3" height="2"/>
<rect x="605" y="336" width="1" height="25"/>
<rect x="604" y="340" width="3" height="20"/>
<rect x="605" y="341" width="1" height="18" fill="#fff"/>
<rect x="608" y="334" width="1" height="18"/>
<rect x="607" y="337" width="3" height="4"/>
<rect x="608" y="338" width="1" height="2" fill="#fff"/>
<rect x="611" y="317" width="1" height="48"/>
<rect x="610" y="321" width="3" height="16"/>
<rect x="611" y="322" width="1" height="14" fill="#fff"/>
<rect x="613" y="307" width="1" height="43"/>
<rect x="612" y="320" width="3" height="2"/>
<rect x="616" y="320" width="1" height="39"/>
<rect x="615" y="322" width="3" height="32"/>
<rect x="619" y="304" width="1" height="51"/>
<rect x="618" y="323" width="3" height="31"/>
<rect x="619" y="324" width="1" height="29" fill="#fff"/>
<rect x="622" y="308" width="1" height="24"/>
<rect x="621" y="322" width="3" height="2"/>
<rect x="625" y="309" width="1" height="23"/>
<rect x="624" y="319" width="3" height="2"/>
<rect x="628" y="315" width="1" height="31"/>
<rect x="627" y="317" width="3" height="19"/>
<rect x="631" y="312" width="1" height="30"/>
<rect x="630" y="319" width="3" height="17"/>
<rect x="631" y="320" width="1" height="15" fill="#fff"/>
<rect x="634" y="311" width="1" height="19"/>
<rect x="633" y="318" width="3" height="11"/>
<rect x="637" y="323" width="1" height="16"/>
<rect x="636" y="329" width="3" height="6"/>
<rect x="640" y="334" width="1" height="52"/>
<rect x="639" y="335" width="3" height="40"/>
<rect x="643" y="357" width="1" height="23"/>
<rect x="642" y="358" width="3" height="17"/>
<rect x="643" y="359" width="1" height="15" fill="#fff"/>
<rect x="645" y="346" width="1" height="32"/>
<rect x="644" y="358" width="3" height="18"/>
<rect x="648" y="373" width="1" height="31"/>
<rect x="647" y="376" width="3" height="24"/>
<rect x="651" y="386" width="1" height="17"/>
<rect x="650" y="398" width="3" height="3"/>
<rect x="651" y="399" width="1" height="1" fill="#fff"/>
<rect x="654" y="384" width="1" height="21"/>
<rect x="653" y="398" width="3" height="2"/>
<rect x="657" y="381" width="1" height="24"/>
<rect x="656" y="383" width="3" height="15"/>
<rect x="657" y="384" width="1" height="13" fill="#fff"/>
<rect x="660" y="332" width="1" height="52"/>
<rect x="659" y="333" width="3" height="50"/>
<rect x="660" y="334" width="1" height="48" fill="#fff"/>
<rect x="663" y="327" width="1" height="15"/>
<rect x="662" y="332" width="3" height="2"/>
<rect x="666" y="290" width="1" height="43"/>
<rect x="665" y="308" width="3" height="24"/>
<rect x="666" y="309" width="1" height="22" fill="#fff"/>
<rect x="669" y="300" width="1" height="30"/>
<rect x="668" y="308" width="3" height="21"/>
<rect x="672" y="326" width="1" height="15"/>
<rect x="671" y="328" width="3" height="13"/>
<rect x="675" y="338" width="1" height="78"/>
<rect x="674" y="339" width="3" height="62"/>
<rect x="677" y="388" width="1" height="19"/>
<rect x="676" y="401" width="3" height="5"/>
<rect x="680" y="372" width="1" height="34"/>
<rect x="679" y="373" width="3" height="33"/>
<rect x="680" y="374" width="1" height="31" fill="#fff"/>
<rect x="683" y="359" width="1" height="19"/>
<rect x="682" y="360" width="3" height="13"/>
<rect x="683" y="361" width="1" height="11" fill="#fff"/>
<rect x="686" y="341" width="1" height="20"/>
<rect x="685" y="356" width="3" height="4"/>
<rect x="686" y="357" width="1" height="2" fill="#fff"/>
<rect x="689" y="331" width="1" height="41"/>
<rect x="688" y="338" width="3" height="18"/>
<rect x="689" y="339" width="1" height="16" fill="#fff"/>
<rect x="692" y="327" width="1" height="19"/>
<rect x="691" y="337" width="3" height="8"/>
<rect x="695" y="343" width="1" height="20"/>
<rect x="694" y="345" width="3" height="18"/>
<rect x="698" y="360" width="1" height="45"/>
<rect x="697" y="362" width="3" height="39"/>
<rect x="701" y="369" width="1" height="33"/>
<rect x="700" y="383" width="3" height="18"/>
<rect x="701" y="384" width="1" height="16" fill="#fff"/>
<rect x="704" y="365" width="1" height="27"/>
<rect x="703" y="381" width="3" height="6"/>
<rect x="707" y="382" width="1" height="25"/>
<rect x="706" y="384" width="3" height="22"/>
<rect x="709" y="363" width="1" height="44"/>
<rect x="708" y="378" width="3" height="28"/>
<rect x="709" y="379" width="1" height="26" fill="#fff"/>
<rect x="712" y="377" width="1" height="13"/>
<rect x="711" y="378" width="3" height="5"/>
<rect x="715" y="380" width="1" height="20"/>
<rect x="714" y="381" width="3" height="18"/>
<rect x="718" y="394" width="1" height="10"/>
<rect x="717" y="398" width="3" height="2"/>
<rect x="721" y="390" width="1" height="33"/>
<rect x="720" y="397" width="3" height="3"/>
<rect x="721" y="398" width="1" height="1" fill="#fff"/>
<rect x="724" y="367" width="1" height="54"/>
<rect x="723" y="398" width="3" height="14"/>
<rect x="727" y="397" width="1" height="25"/>
<rect x="726" y="406" width="3" height="6"/>
<rect x="727" y="407" width="1" height="4" fill="#fff"/>
<rect x="730" y="393" width="1" height="22"/>
<rect x="729" y="406" width="3" height="2"/>
<rect x="733" y="373" width="1" height="35"/>
<rect x="732" y="378" width="3" height="29"/>
<rect x="733" y="379" width="1" height="27" fill="#fff"/>
<rect x="736" y="375" width="1" height="16"/>
<rect x="735" y="377" width="3" height="13"/>
<rect x="739" y="381" width="1" height="14"/>
<rect x="738" y="383" width="3" height="11"/>
<rect x="741" y="385" width="1" height="30"/>
<rect x="740" y="391" width="3" height="23"/>
<rect x="744" y="398" width="1" height="21"/>
<rect x="743" y="412" width="3" height="3"/>
<rect x="747" y="405" width="1" height="52"/>
<rect x="746" y="414" width="3" height="42"/>
<rect x="750" y="443" width="1" height="42"/>
<rect x="749" y="456" width="3" height="2"/>
<rect x="753" y="415" width="1" height="43"/>
<rect x="752" y="418" width="3" height="39"/>
<rect x="753" y="419" width="1" height="37" fill="#fff"/>
<rect x="756" y="364" width="1" height="88"/>
<rect x="755" y="418" width="3" height="25"/>
<rect x="759" y="424" width="1" height="35"/>
<rect x="758" y="425" width="3" height="19"/>
<rect x="762" y="331" width="1" height="106"/>
<rect x="761" y="349" width="3" height="80"/>
<rect x="762" y="350" width="1" height="78" fill="#fff"/>
<rect x="765" y="270" width="1" height="88"/>
<rect x="764" y="298" width="3" height="51"/>
<rect x="765" y="299" width="1" height="49" fill="#fff"/>
<rect x="768" y="164" width="1" height="134"/>
<rect x="767" y="259" width="3" height="39"/>
<rect x="768" y="260" width="1" height="37" fill="#fff"/>
<rect x="771" y="241" width="1" height="119"/>
<rect x="770" y="259" width="3" height="43"/>
<rect x="773" y="207" width="1" height="127"/>
<rect x="772" y="228" width="3" height="69"/>
<rect x="773" y="229" width="1" height="67" fill="#fff"/>
<rect x="776" y="224" width="1" height="77"/>
<rect x="775" y="228" width="3" height="8"/>
<rect x="776" y="229" width="1" height="6" fill="#fff"/>
<rect x="779" y="182" width="1" height="79"/>
<rect x="778" y="201" width="3" height="27"/>
<rect x="779" y="202" width="1" height="25" fill="#fff"/>
<rect x="782" y="179" width="1" height="71"/>
<rect x="781" y="201" width="3" height="40"/>
<rect x="785" y="229" width="1" height="101"/>
<rect x="784" y="241" width="3" height="66"/>
<rect x="788" y="295" width="1" height="27"/>
<rect x="787" y="297" width="3" height="10"/>
<rect x="788" y="298" width="1" height="8" fill="#fff"/>
<rect x="791" y="288" width="1" height="86"/>
<rect x="790" y="297" width="3" height="22"/>
<rect x="794" y="278" width="1" height="68"/>
<rect x="793" y="293" width="3" height="26"/>
<rect x="794" y="294" width="1" height="24" fill="#fff"/>
<rect x="797" y="258" width="1" height="46"/>
<rect x="796" y="259" width="3" height="34"/>
<rect x="797" y="260" width="1" height="32" fill="#fff"/>
<rect x="800" y="238" width="1" height="48"/>
<rect x="799" y="256" width="3" height="3"/>
<rect x="800" y="257" width="1" height="1" fill="#fff"/>
<rect x="802" y="210" width="1" height="46"/>
<rect x="801" y="216" width="3" height="40"/>
<rect x="802" y="217" width="1" height="38" fill="#fff"/>
<rect x="805" y="202" width="1" height="50"/>
<rect x="804" y="216" width="3" height="26"/>
<rect x="808" y="174" width="1" height="69"/>
<rect x="807" y="194" width="3" height="48"/>
<rect x="808" y="195" width="1" height="46" fill="#fff"/>
<rect x="811" y="127" width="1" height="68"/>
<rect x="810" y="137" width="3" height="57"/>
<rect x="811" y="138" width="1" height="55" fill="#fff"/>
<rect x="814" y="126" width="1" height="126"/>
<rect x="813" y="137" width="3" height="64"/>
<rect x="817" y="180" width="1" height="51"/>
<rect x="816" y="202" width="3" height="9"/>
<rect x="820" y="194" width="1" height="36"/>
<rect x="819" y="209" width="3" height="3"/>
<rect x="823" y="192" width="1" height="42"/>
<rect x="822" y="212" width="3" height="9"/>
<rect x="826" y="212" width="1" height="50"/>
<rect x="825" y="221" width="3" height="30"/>
<rect x="829" y="209" width="1" height="54"/>
<rect x="828" y="233" width="3" height="18"/>
<rect x="829" y="234" width="1" height="16" fill="#fff"/>
<rect x="832" y="232" width="1" height="34"/>
<rect x="831" y="233" width="3" height="21"/>
<rect x="834" y="241" width="1" height="28"/>
<rect x="833" y="248" width="3" height="6"/>
<rect x="834" y="249" width="1" height="4" fill="#fff"/>
<rect x="837" y="216" width="1" height="37"/>
<rect x="836" y="226" width="3" height="22"/>
<rect x="837" y="227" width="1" height="20" fill="#fff"/>
<rect x="840" y="218" width="1" height="21"/>
<rect x="839" y="224" width="3" height="6"/>
<rect x="843" y="229" width="1" height="33"/>
<rect x="842" y="230" width="3" height="31"/>
<rect x="846" y="245" width="1" height="22"/>
<rect x="845" y="258" width="3" height="3"/>
<rect x="846" y="259" width="1" height="1" fill="#fff"/>
<rect x="849" y="241" width="1" height="19"/>
<rect x="848" y="243" width="3" height="15"/>
<rect x="849" y="244" width="1" height="13" fill="#fff"/>
<rect x="852" y="222" width="1" height="35"/>
<rect x="851" y="232" width="3" height="11"/>
<rect x="852" y="233" width="1" height="9" fill="#fff"/>
<rect x="855" y="210" width="1" height="42"/>
<rect x="854" y="232" width="3" height="12"/>
<rect x="858" y="237" width="1" height="13"/>
<rect x="857" y="243" width="3" height="4"/>
<rect x="861" y="226" width="1" height="20"/>
<rect x="860" y="243" width="3" height="3"/>
<rect x="861" y="244" width="1" height="1" fill="#fff"/>
<rect x="864" y="210" width="1" height="35"/>
<rect x="863" y="216" width="3" height="28"/>
<rect x="864" y="217" width="1" height="26" fill="#fff"/>
<rect x="866" y="185" width="1" height="31"/>
<rect x="865" y="206" width="3" height="10"/>
<rect x="866" y="207" width="1" height="8" fill="#fff"/>
<rect x="869" y="204" width="1" height="51"/>
<rect x="868" y="206" width="3" height="48"/>
<rect x="872" y="249" width="1" height="34"/>
<rect x="871" y="254" width="3" height="19"/>
<rect x="875" y="254" width="1" height="37"/>
<rect x="874" y="258" width="3" height="14"/>
<rect x="875" y="259" width="1" height="12" fill="#fff"/>
<rect x="878" y="252" width="1" height="20"/>
<rect x="877" y="258" width="3" height="1"/>
<rect x="881" y="256" width="1" height="22"/>
<rect x="880" y="258" width="3" height="14"/>
<rect x="884" y="267" width="1" height="27"/>
<rect x="883" y="272" width="3" height="21"/>
<rect x="887" y="284" width="1" height="25"/>
<rect x="886" y="291" width="3" height="9"/>
<rect x="890" y="282" width="1" height="26"/>
<rect x="889" y="290" width="3" height="10"/>
<rect x="890" y="291" width="1" height="8" fill="#fff"/>
<rect x="893" y="276" width="1" height="25"/>
<rect x="892" y="289" width="3" height="2"/>
<rect x="896" y="279" width="1" height="28"/>
<rect x="895" y="288" width="3" height="3"/>
<rect x="898" y="285" width="1" height="14"/>
<rect x="897" y="287" width="3" height="10"/>
<rect x="901" y="294" width="1" height="53"/>
<rect x="900" y="296" width="3" height="46"/>
<rect x="904" y="332" width="1" height="16"/>
<rect x="903" y="342" width="3" height="2"/>
<rect x="907" y="333" width="1" height="12"/>
<rect x="906" y="336" width="3" height="8"/>
<rect x="907" y="337" width="1" height="6" fill="#fff"/>
<rect x="910" y="331" width="1" height="30"/>
<rect x="909" y="336" width="3" height="20"/>
<rect x="913" y="348" width="1" height="19"/>
<rect x="912" y="356" width="3" height="7"/>
<rect x="916" y="356" width="1" height="47"/>
<rect x="915" y="362" width="3" height="28"/>
<rect x="919" y="389" width="1" height="25"/>
<rect x="918" y="390" width="3" height="23"/>
<rect x="922" y="408" width="1" height="39"/>
<rect x="921" y="413" width="3" height="25"/>
<rect x="925" y="420" width="1" height="23"/>
<rect x="924" y="428" width="3" height="10"/>
<rect x="925" y="429" width="1" height="8" fill="#fff"/>
<rect x="928" y="409" width="1" height="20"/>
<rect x="927" y="418" width="3" height="10"/>
<rect x="928" y="419" width="1" height="8" fill="#fff"/>
<rect x="930" y="388" width="1" height="32"/>
<rect x="929" y="399" width="3" height="21"/>
<rect x="930" y="400" width="1" height="19" fill="#fff"/>
<rect x="933" y="396" width="1" height="43"/>
<rect x="932" y="398" width="3" height="19"/>
<rect x="936" y="382" width="1" height="35"/>
<rect x="935" y="393" width="3" height="24"/>
<rect x="936" y="394" width="1" height="22" fill="#fff"/>
<rect x="939" y="391" width="1" height="20"/>
<rect x="938" y="393" width="3" height="17"/>
<rect x="942" y="409" width="1" height="27"/>
<rect x="941" y="410" width="3" height="15"/>
<rect x="945" y="420" width="1" height="16"/>
<rect x="944" y="423" width="3" height="3"/>
<rect x="948" y="412" width="1" height="21"/>
<rect x="947" y="426" width="3" height="5"/>
<rect x="951" y="422" width="1" height="31"/>
<rect x="950" y="429" width="3" height="15"/>
<rect x="954" y="400" width="1" height="45"/>
<rect x="953" y="405" width="3" height="39"/>
<rect x="954" y="406" width="1" height="37" fill="#fff"/>
<rect x="957" y="403" width="1" height="17"/>
<rect x="956" y="405" width="3" height="7"/>
<rect x="960" y="407" width="1" height="21"/>
<rect x="959" y="411" width="3" height="4"/>
<rect x="960" y="412" width="1" height="2" fill="#fff"/>
<rect x="962" y="399" width="1" height="21"/>
<rect x="961" y="402" width="3" height="12"/>
<rect x="962" y="403" width="1" height="10" fill="#fff"/>
<rect x="965" y="399" width="1" height="21"/>
<rect x="964" y="402" width="3" height="7"/>
<rect x="968" y="403" width="1" height="14"/>
<rect x="967" y="407" width="3" height="2"/>
<rect x="971" y="403" width="1" height="15"/>
<rect x="970" y="406" width="3" height="2"/>
<rect x="974" y="386" width="1" height="22"/>
<rect x="973" y="390" width="3" height="17"/>
<rect x="974" y="391" width="1" height="15" fill="#fff"/>
<rect x="977" y="368" width="1" height="23"/>
<rect x="976" y="379" width="3" height="11"/>
<rect x="977" y="380" width="1" height="9" fill="#fff"/>
<rect x="980" y="353" width="1" height="26"/>
<rect x="979" y="356" width="3" height="22"/>
<rect x="980" y="357" width="1" height="20" fill="#fff"/>
<rect x="983" y="342" width="1" height="30"/>
<rect x="982" y="357" width="3" height="9"/>
<rect x="986" y="313" width="1" height="54"/>
<rect x="985" y="358" width="3" height="8"/>
<rect x="986" y="359" width="1" height="6" fill="#fff"/>
<rect x="989" y="346" width="1" height="27"/>
<rect x="988" y="358" width="3" height="1"/>
<rect x="992" y="346" width="1" height="17"/>
<rect x="991" y="352" width="3" height="6"/>
<rect x="992" y="353" width="1" height="4" fill="#fff"/>
</g>
</svg><svg class="abs" style="left:8.800px;top:6.900px" width="19" height="19" viewBox="0 0 19 19"><circle cx="9.100" cy="9.100" r="9.100" fill="#f4941c"/><g transform="translate(9.300,9.200) scale(.72) translate(-9,-9)"><path fill="#fff" d="M12.3 7.9c.2-1.1-.7-1.7-1.8-2.1l.4-1.5-.9-.2-.4 1.5-.7-.2.4-1.5-.9-.2-.4 1.5-1.800-.500-.200 1 .700.200c.400.100.400.300.400.500l-1 4.100c0 .100-.200.300-.400.200l-.700-.200-.400 1.100 1.700.4-.4 1.500.9.200.4-1.500.700.200-.4 1.500.9.200.4-1.500c1.600.300 2.700.200 3.200-1.200.400-1.100 0-1.800-.800-2.200.600-.100 1-.500 1.100-1.300zm-2.100 2.900c-.300 1.100-2.200.500-2.800.400l.500-2c.600.100 2.600.400 2.300 1.600zm.300-2.900c-.300 1-1.800.500-2.300.400l.400-1.800c.500.100 2.200.400 1.900 1.400z"/></g></svg>
<div class="abs" style="left:31.10px;top:7.90px;font-size:15px;line-height:17px;color:#131722;letter-spacing:0.730px;">Bitcoin</div>
<div class="abs" style="left:87.82px;top:7.90px;font-size:15px;line-height:17px;color:#131722;letter-spacing:0.000px;">/</div>
<div class="abs" style="left:98.90px;top:7.90px;font-size:15px;line-height:17px;color:#131722;letter-spacing:0.143px;">U.S.</div>
<div class="abs" style="left:133.90px;top:7.90px;font-size:15px;line-height:17px;color:#131722;letter-spacing:0.484px;">Dollar</div>
<div class="abs" style="left:178.70px;top:7.90px;font-size:15px;line-height:17px;color:#131722;letter-spacing:0.000px;">·</div>
<div class="abs" style="left:188.50px;top:7.90px;font-size:15px;line-height:17px;color:#131722;letter-spacing:0.000px;transform:scaleX(0.9590);transform-origin:0 0;">15</div>
<div class="abs" style="left:207.70px;top:7.90px;font-size:15px;line-height:17px;color:#131722;letter-spacing:0.000px;">·</div>
<div class="abs" style="left:217.10px;top:7.90px;font-size:15px;line-height:17px;color:#131722;letter-spacing:0.000px;transform:scaleX(0.9118);transform-origin:0 0;">INDEX</div>
<svg class="abs" style="left:271px;top:10.500px" width="13" height="12" viewBox="0 0 13 12"><path d="M.400.500h11.600l-4 5.300 4 5.300h-11.600z" fill="#f7525f"/></svg>
<svg class="abs" style="left:295px;top:7px" width="18" height="18" viewBox="0 0 18 18"><circle cx="9" cy="8.900" r="8.400" fill="#daf1ec"/><circle cx="9" cy="8.900" r="3.900" fill="#089981"/></svg>
<div class="abs" style="left:320.50px;top:10.84px;font-size:12px;line-height:14px;color:#131722;letter-spacing:0.431px;">O69,823.61</div>
<div class="abs" style="left:393.90px;top:10.84px;font-size:12px;line-height:14px;color:#131722;letter-spacing:0.461px;">H69,900.90</div>
<div class="abs" style="left:466.90px;top:10.84px;font-size:12px;line-height:14px;color:#131722;letter-spacing:0.505px;">L69,786.04</div>
<div class="abs" style="left:537.50px;top:10.84px;font-size:12px;line-height:14px;color:#131722;letter-spacing:0.439px;">C69,865.90</div>
<div class="abs" style="left:9.40px;top:34.19px;font-size:12.3px;line-height:14.3px;color:#131722;letter-spacing:0.000px;transform:scaleX(0.9182);transform-origin:0 0;">WMA</div>
<div class="abs" style="left:40.00px;top:34.19px;font-size:12.3px;line-height:14.3px;color:#50535e;letter-spacing:0.168px;">100 close</div>
<div class="abs" style="left:101.80px;top:34.19px;font-size:12.3px;line-height:14.3px;color:#2962ff;letter-spacing:0.348px;">69,973.56</div>
<div class="abs" style="left:9.40px;top:58.49px;font-size:12.3px;line-height:14.3px;color:#131722;letter-spacing:0.000px;transform:scaleX(0.8854);transform-origin:0 0;">EMA</div>
<div class="abs" style="left:35.60px;top:58.49px;font-size:12.3px;line-height:14.3px;color:#50535e;letter-spacing:0.198px;">25 close</div>
<div class="abs" style="left:90.80px;top:58.49px;font-size:12.3px;line-height:14.3px;color:#089981;letter-spacing:0.285px;">69,692.51</div>
<div class="abs" style="left:9px;top:79.500px;width:26.500px;height:18px;border:1px solid #e0e3eb;border-radius:3px;background:#fff"><svg style="position:absolute;left:8.500px;top:6.500px" width="11" height="6" viewBox="0 0 11 6"><path d="M1.200 5l4.300-3.700 4.300 3.700" fill="none" stroke="#131722" stroke-width="1.500"/></svg></div>
<div class="abs" style="left:1526.500px;top:4px;width:68.500px;height:25px;border:1px solid #eef0f4;border-radius:4px;box-sizing:border-box"></div>
<div class="abs" style="left:1530.30px;top:10.44px;font-size:12px;line-height:14px;color:#131722;letter-spacing:0.000px;transform:scaleX(0.8091);transform-origin:0 0;">USD</div>
<svg class="abs" style="left:1585px;top:15.500px" width="7" height="5" viewBox="0 0 7 5"><path d="M1 1l2.500 2.300 2.500-2.300" fill="none" stroke="#131722" stroke-width="1.300"/></svg>
<div class="abs" style="left:1530.80px;top:49.24px;font-size:12px;line-height:14px;color:#131722;letter-spacing:-0.073px;">71,800.00</div>
<div class="abs" style="left:1530.80px;top:80.24px;font-size:12px;line-height:14px;color:#131722;letter-spacing:-0.073px;">71,600.00</div>
<div class="abs" style="left:1530.80px;top:110.24px;font-size:12px;line-height:14px;color:#131722;letter-spacing:-0.073px;">71,400.00</div>
<div class="abs" style="left:1530.80px;top:141.24px;font-size:12px;line-height:14px;color:#131722;letter-spacing:-0.073px;">71,200.00</div>
<div class="abs" style="left:1530.80px;top:171.24px;font-size:12px;line-height:14px;color:#131722;letter-spacing:-0.073px;">71,000.00</div>
<div class="abs" style="left:1530.80px;top:202.24px;font-size:12px;line-height:14px;color:#131722;letter-spacing:-0.073px;">70,800.00</div>
<div class="abs" style="left:1530.80px;top:232.24px;font-size:12px;line-height:14px;color:#131722;letter-spacing:-0.073px;">70,600.00</div>
<div class="abs" style="left:1530.80px;top:263.24px;font-size:12px;line-height:14px;color:#131722;letter-spacing:-0.073px;">70,400.00</div>
<div class="abs" style="left:1530.80px;top:293.24px;font-size:12px;line-height:14px;color:#131722;letter-spacing:-0.073px;">70,200.00</div>
<div class="abs" style="left:1530.80px;top:324.24px;font-size:12px;line-height:14px;color:#131722;letter-spacing:-0.073px;">70,000.00</div>
<div class="abs" style="left:1530.80px;top:354.24px;font-size:12px;line-height:14px;color:#131722;letter-spacing:-0.073px;">69,800.00</div>
<div class="abs" style="left:1530.80px;top:385.24px;font-size:12px;line-height:14px;color:#131722;letter-spacing:-0.073px;">69,600.00</div>
<div class="abs" style="left:1530.80px;top:415.24px;font-size:12px;line-height:14px;color:#131722;letter-spacing:-0.073px;">69,400.00</div>
<div class="abs" style="left:1530.80px;top:446.24px;font-size:12px;line-height:14px;color:#131722;letter-spacing:-0.073px;">69,200.00</div>
<div class="abs" style="left:1530.80px;top:476.24px;font-size:12px;line-height:14px;color:#131722;letter-spacing:-0.073px;">69,000.00</div>
<div class="abs" style="left:1530.80px;top:507.24px;font-size:12px;line-height:14px;color:#131722;letter-spacing:-0.073px;">68,800.00</div>
<div class="abs" style="left:1530.80px;top:538.24px;font-size:12px;line-height:14px;color:#131722;letter-spacing:-0.073px;">68,600.00</div>
<div class="abs" style="left:1530.80px;top:568.24px;font-size:12px;line-height:14px;color:#131722;letter-spacing:-0.073px;">68,400.00</div>
<div class="abs" style="left:1530.80px;top:599.24px;font-size:12px;line-height:14px;color:#131722;letter-spacing:-0.073px;">68,200.00</div>
<div class="abs" style="left:1530.80px;top:629.24px;font-size:12px;line-height:14px;color:#131722;letter-spacing:-0.073px;">68,000.00</div>
<div class="abs" style="left:1530.80px;top:660.24px;font-size:12px;line-height:14px;color:#131722;letter-spacing:-0.073px;">67,800.00</div>
<div class="abs" style="left:1530.80px;top:690.24px;font-size:12px;line-height:14px;color:#131722;letter-spacing:-0.073px;">67,600.00</div>
<div class="abs" style="left:1530.80px;top:721.24px;font-size:12px;line-height:14px;color:#131722;letter-spacing:-0.073px;">67,400.00</div>
<div class="abs" style="left:1530.80px;top:751.24px;font-size:12px;line-height:14px;color:#131722;letter-spacing:-0.073px;">67,200.00</div>
<div class="abs" style="left:1530.80px;top:782.24px;font-size:12px;line-height:14px;color:#131722;letter-spacing:-0.073px;">67,000.00</div>
<div class="abs" style="left:1530.80px;top:812.24px;font-size:12px;line-height:14px;color:#131722;letter-spacing:-0.073px;">66,800.00</div>
<div class="abs" style="left:1523px;top:247px;width:66px;height:17px;background:#2962ff;border-radius:2px"></div>
<div class="abs" style="left:1530.60px;top:248.01px;font-size:11.8px;line-height:13.8px;color:#fff;font-weight:bold;letter-spacing:0.063px;">70,498.50</div>
<div class="abs" style="left:1523px;top:292px;width:66px;height:17px;background:#4f4f4f;border-radius:2px"></div>
<div class="abs" style="left:1530.60px;top:293.01px;font-size:11.8px;line-height:13.8px;color:#fff;font-weight:bold;letter-spacing:0.063px;">70,208.10</div>
<div class="abs" style="left:1523px;top:327px;width:66px;height:17px;background:#2962ff;border-radius:2px"></div>
<div class="abs" style="left:1530.60px;top:328.01px;font-size:11.8px;line-height:13.8px;color:#fff;font-weight:bold;letter-spacing:0.063px;">69,973.56</div>
<div class="abs" style="left:1523px;top:344px;width:66px;height:31px;background:#000;border-radius:2px"></div>
<div class="abs" style="left:1530.60px;top:345.01px;font-size:11.8px;line-height:13.8px;color:#fff;font-weight:bold;letter-spacing:0.063px;">69,865.90</div>
<div class="abs" style="left:1530.60px;top:358.84px;font-size:12px;line-height:14px;color:#d1d4dc;letter-spacing:-0.257px;">02:08</div>
<div class="abs" style="left:1523px;top:375px;width:66px;height:17px;background:#089981;border-radius:2px"></div>
<div class="abs" style="left:1530.60px;top:376.01px;font-size:11.8px;line-height:13.8px;color:#fff;font-weight:bold;letter-spacing:0.063px;">69,692.51</div>
<div class="abs" style="left:24.99px;top:840.44px;font-size:12px;line-height:14px;color:#131722;letter-spacing:0.000px;">06:00</div>
<div class="abs" style="left:94.99px;top:840.44px;font-size:12px;line-height:14px;color:#131722;letter-spacing:0.000px;">12:00</div>
<div class="abs" style="left:164.99px;top:840.44px;font-size:12px;line-height:14px;color:#131722;letter-spacing:0.000px;">18:00</div>
<div class="abs" style="left:243.33px;top:840.44px;font-size:12px;line-height:14px;color:#131722;font-weight:bold;letter-spacing:0.000px;">10</div>
<div class="abs" style="left:304.99px;top:840.44px;font-size:12px;line-height:14px;color:#131722;letter-spacing:0.000px;">06:00</div>
<div class="abs" style="left:374.99px;top:840.44px;font-size:12px;line-height:14px;color:#131722;letter-spacing:0.000px;">12:00</div>
<div class="abs" style="left:444.99px;top:840.44px;font-size:12px;line-height:14px;color:#131722;letter-spacing:0.000px;">18:00</div>
<div class="abs" style="left:522.66px;top:840.44px;font-size:12px;line-height:14px;color:#131722;font-weight:bold;letter-spacing:0.000px;">11</div>
<div class="abs" style="left:583.99px;top:840.44px;font-size:12px;line-height:14px;color:#131722;letter-spacing:0.000px;">06:00</div>
<div class="abs" style="left:653.99px;top:840.44px;font-size:12px;line-height:14px;color:#131722;letter-spacing:0.000px;">12:00</div>
<div class="abs" style="left:723.99px;top:840.44px;font-size:12px;line-height:14px;color:#131722;letter-spacing:0.000px;">18:00</div>
<div class="abs" style="left:801.33px;top:840.44px;font-size:12px;line-height:14px;color:#131722;font-weight:bold;letter-spacing:0.000px;">12</div>
<div class="abs" style="left:862.99px;top:840.44px;font-size:12px;line-height:14px;color:#131722;letter-spacing:0.000px;">06:00</div>
<div class="abs" style="left:932.99px;top:840.44px;font-size:12px;line-height:14px;color:#131722;letter-spacing:0.000px;">12:00</div>
<div class="abs" style="left:1002.99px;top:840.44px;font-size:12px;line-height:14px;color:#131722;letter-spacing:0.000px;">18:00</div>
<div class="abs" style="left:1080.33px;top:840.44px;font-size:12px;line-height:14px;color:#131722;font-weight:bold;letter-spacing:0.000px;">13</div>
<div class="abs" style="left:1141.99px;top:840.44px;font-size:12px;line-height:14px;color:#131722;letter-spacing:0.000px;">06:00</div>
<div class="abs" style="left:1211.99px;top:840.44px;font-size:12px;line-height:14px;color:#131722;letter-spacing:0.000px;">12:00</div>
<div class="abs" style="left:1281.99px;top:840.44px;font-size:12px;line-height:14px;color:#131722;letter-spacing:0.000px;">18:00</div>
<div class="abs" style="left:1360.33px;top:840.44px;font-size:12px;line-height:14px;color:#131722;font-weight:bold;letter-spacing:0.000px;">14</div>
<div class="abs" style="left:1421.49px;top:840.44px;font-size:12px;line-height:14px;color:#131722;letter-spacing:0.000px;">06:00</div>
<div class="abs" style="left:1491.69px;top:840.44px;font-size:12px;line-height:14px;color:#131722;letter-spacing:0.000px;">12:00</div>
<svg class="abs" style="left:1552px;top:839px" width="20" height="18" viewBox="0 0 20 18"><path d="M2 8.400L5.800 2H13L16.800 8.400L13 14.800H5.800Z" fill="none" stroke="#131722" stroke-width="1.200" stroke-linejoin="round"/><circle cx="9.400" cy="8.400" r="2.100" fill="none" stroke="#131722" stroke-width="1.200"/></svg>
<div class="abs" style="left:0;top:861px;width:1600px;height:1px;background:#e6e8ed"></div>
<div class="abs" style="left:14.40px;top:873.57px;font-size:13.5px;line-height:15.5px;color:#131722;letter-spacing:0.000px;transform:scaleX(0.9155);transform-origin:0 0;">1D</div>
<div class="abs" style="left:41.80px;top:873.57px;font-size:13.5px;line-height:15.5px;color:#131722;letter-spacing:0.000px;transform:scaleX(0.9735);transform-origin:0 0;">5D</div>
<div class="abs" style="left:70.40px;top:873.57px;font-size:13.5px;line-height:15.5px;color:#131722;letter-spacing:0.000px;transform:scaleX(0.9385);transform-origin:0 0;">1M</div>
<div class="abs" style="left:99.40px;top:873.57px;font-size:13.5px;line-height:15.5px;color:#131722;letter-spacing:0.000px;transform:scaleX(0.9385);transform-origin:0 0;">3M</div>
<div class="abs" style="left:128.40px;top:873.57px;font-size:13.5px;line-height:15.5px;color:#131722;letter-spacing:0.000px;transform:scaleX(0.9491);transform-origin:0 0;">6M</div>
<div class="abs" style="left:157.40px;top:873.57px;font-size:13.5px;line-height:15.5px;color:#131722;letter-spacing:0.000px;transform:scaleX(0.9333);transform-origin:0 0;">YTD</div>
<div class="abs" style="left:195.00px;top:873.57px;font-size:13.5px;line-height:15.5px;color:#131722;letter-spacing:0.000px;transform:scaleX(0.9084);transform-origin:0 0;">1Y</div>
<div class="abs" style="left:221.80px;top:873.57px;font-size:13.5px;line-height:15.5px;color:#131722;letter-spacing:0.000px;transform:scaleX(0.9568);transform-origin:0 0;">5Y</div>
<div class="abs" style="left:248.80px;top:873.57px;font-size:13.5px;line-height:15.5px;color:#131722;letter-spacing:1.198px;">All</div>
<div class="abs" style="left:276px;top:870px;width:1px;height:23px;background:#eceef2"></div>
<svg class="abs" style="left:288px;top:868px" width="24" height="24" viewBox="0 0 24 24"><g fill="none" stroke="#131722" stroke-width="1.200"><path d="M7.600 3v5.500M15.400 3v5.500M3 10.400h18"/><path d="M3 11.500v-3a2 2 0 0 1 2-2h14a2 2 0 0 1 2 2v9.500a2 2 0 0 1-2 2h-7"/><path d="M3 17.600h8M7.800 14.400l3.200 3.200-3.200 3.200"/></g></svg>
<div class="abs" style="left:1491.80px;top:873.60px;font-size:13px;line-height:15px;color:#131722;letter-spacing:0.428px;">15:57:52</div>
<div class="abs" style="left:1550.20px;top:873.60px;font-size:13px;line-height:15px;color:#131722;letter-spacing:0.000px;transform:scaleX(0.9629);transform-origin:0 0;">UTC+7</div>
<div class="zb" style="left:697px"><svg width="24" height="24" viewBox="0 0 24 24"><path d="M7.200 12h9.600" fill="none" stroke="#131722" stroke-width="1.600"/></svg></div>
<div class="zb" style="left:729px"><svg width="24" height="24" viewBox="0 0 24 24"><path d="M7 12h10M12 7v10" fill="none" stroke="#131722" stroke-width="1.600"/></svg></div>
<div class="zb" style="left:769px"><svg width="24" height="24" viewBox="0 0 24 24"><path d="M13.800 7.500l-4.300 4.500 4.300 4.500" fill="none" stroke="#131722" stroke-width="1.600"/></svg></div>
<div class="zb" style="left:801px"><svg width="24" height="24" viewBox="0 0 24 24"><path d="M10.200 7.500l4.300 4.500-4.300 4.500" fill="none" stroke="#131722" stroke-width="1.600"/></svg></div>
<div class="zb" style="left:841px"><svg width="24" height="24" viewBox="0 0 24 24"><path d="M8.200 9.500a5 5 0 1 0 3.800-2.300" fill="none" stroke="#131722" stroke-width="1.500"/><path d="M12.800 4.300v5.400l-3.600-2.700z" fill="#131722"/></svg></div><div class="abs" style="left:-1px;top:784px;width:671px;height:38px;background:#fff;border-radius:6px;box-shadow:0 2px 4px rgba(0,0,0,.17)"></div>
<svg class="abs" style="left:0;top:784px" width="672" height="38" viewBox="0 0 672 38">
<rect x="8" y="13" width="2" height="2" fill="#c8c8c8"/>
<rect x="8" y="18" width="2" height="2" fill="#c8c8c8"/>
<rect x="8" y="23" width="2" height="2" fill="#c8c8c8"/>
<rect x="14" y="13" width="2" height="2" fill="#c8c8c8"/>
<rect x="14" y="18" width="2" height="2" fill="#c8c8c8"/>
<rect x="14" y="23" width="2" height="2" fill="#c8c8c8"/>
<g fill="none" stroke="#15171f" stroke-width="1.050" stroke-linejoin="round">
<path d="M34.500 10.400h17.100v17.200h-17.100z"/><circle cx="34.5" cy="10.4" r="2.2" fill="#fff"/><circle cx="51.6" cy="10.4" r="2.2" fill="#fff"/><circle cx="34.5" cy="27.6" r="2.2" fill="#fff"/><circle cx="51.6" cy="27.6" r="2.2" fill="#fff"/>
<path d="M73.400 25.400V9.400H91.500V22.300H77.600L74.900 25.800"/><circle cx="73.4" cy="27.6" r="2.2" fill="#fff"/>
<path d="M108.200 9.500H129.900M108.200 15.500H127.200M108.200 21.600H129.900M110.400 27.500H129.900"/><circle cx="129.4" cy="15.5" r="2.2" fill="#fff"/><circle cx="108.2" cy="27.5" r="2.2" fill="#fff"/>
<path d="M150.400 13.900V10.500H164.500V13.900M157.500 10.500V27.700M155.100 27.700H159.900"/>
<path d="M182.300 23.500L190.500 15.300L197.300 22.600L207.700 12.400M202.600 12.400H207.700V17.900"/><circle cx="190.5" cy="15.3" r="2.2" fill="#fff"/><circle cx="197.3" cy="22.6" r="2.2" fill="#fff"/>
<path d="M223.400 9.400H242.500V28.600H223.400Z M232.700 12.500V26.600M225.400 19.700H239.500"/><path d="M232.700 11l1.700 2.600h-3.400zM241.200 19.700l-2.600 1.700v-3.400z" fill="#131722" stroke="none"/><circle cx="242.5" cy="9.4" r="2.2" fill="#fff"/><circle cx="223.4" cy="28.6" r="2.2" fill="#fff"/>
<path d="M263.400 11.400H280.600M263.400 21.500H277.500M263.400 27.400H280.600"/><path d="M266 19.400L279.200 13.600" stroke-dasharray="1,2.200"/><circle cx="261.2" cy="11.4" r="2.2" fill="#fff"/><circle cx="261.2" cy="21.5" r="2.2" fill="#fff"/><circle cx="279.7" cy="21.5" r="2.2" fill="#fff"/><circle cx="261.2" cy="27.4" r="2.2" fill="#fff"/>
<path d="M301.500 11.400H318.900M301.500 17.400H315.200M301.500 27.400H318.900"/><path d="M303.900 19.900L317 25.400" stroke-dasharray="1,2.200"/><circle cx="299.3" cy="11.4" r="2.2" fill="#fff"/><circle cx="299.3" cy="17.4" r="2.2" fill="#fff"/><circle cx="317.4" cy="17.4" r="2.2" fill="#fff"/><circle cx="299.3" cy="27.4" r="2.2" fill="#fff"/>
<path d="M339.500 25.400H351.500A6.500 6.500 0 0 0 351.500 12.400H345A6.500 6.500 0 0 0 338.500 18.900V24.400A1 1 0 0 0 339.500 25.400Z"/>
<path d="M375.300 7.300H393.700V21.100H375.300ZM384.500 21.100V26.400"/><circle cx="384.5" cy="28.6" r="2.2" fill="#fff"/>
</g>
<text x="384.500" y="18.700" font-family="Liberation Sans, sans-serif" font-size="12" text-anchor="middle" fill="#131722">$</text>
<g fill="none" stroke="#15171f" stroke-width="1.050" stroke-linejoin="round">
<path d="M414.600 28.100V10.200H432.500V23.400H418.700Z"/>
<ellipse cx="461.500" cy="19.400" rx="10.900" ry="8.200"/><circle cx="461.5" cy="11.2" r="2.2" fill="#fff"/><circle cx="461.5" cy="27.6" r="2.2" fill="#fff"/><circle cx="450.6" cy="19.4" r="2.2" fill="#fff"/><circle cx="472.4" cy="19.4" r="2.2" fill="#fff"/>
<path d="M493.500 19.300H509.900"/><circle cx="491.3" cy="19.3" r="2.2" fill="#fff"/>
<path d="M528.400 27.700L545.400 10.600"/><circle cx="528.4" cy="27.7" r="2.2" fill="#fff"/><circle cx="545.4" cy="10.6" r="2.2" fill="#fff"/>
<path d="M567.500 27.700L583.400 10.400M583.400 10.400Q588.800 18.500 583.400 26.600M583.400 26.600Q575.500 32.500 567.500 27.700"/><circle cx="567.5" cy="27.7" r="2.2" fill="#fff"/><circle cx="583.4" cy="10.4" r="2.2" fill="#fff"/><circle cx="583.4" cy="26.6" r="2.2" fill="#fff"/>
<path d="M604.300 27.700Q606.500 20 609.600 15.600Q614.500 11.800 621.400 10.600"/><circle cx="604.3" cy="27.7" r="2.2" fill="#fff"/><circle cx="609.6" cy="15.6" r="2.2" fill="#fff"/><circle cx="621.4" cy="10.6" r="2.2" fill="#fff"/>
<path d="M639.800 27.300L645 18.600Q649.500 15.800 652.700 18.200Q655.200 21 653.700 24.200Q652 27.100 648.800 27.300Z"/><path d="M655.900 11.600Q653.700 13.500 654.700 15.700Q656.200 17.500 658.300 16.100L664.500 11.300"/>
</g></svg></body></html>
